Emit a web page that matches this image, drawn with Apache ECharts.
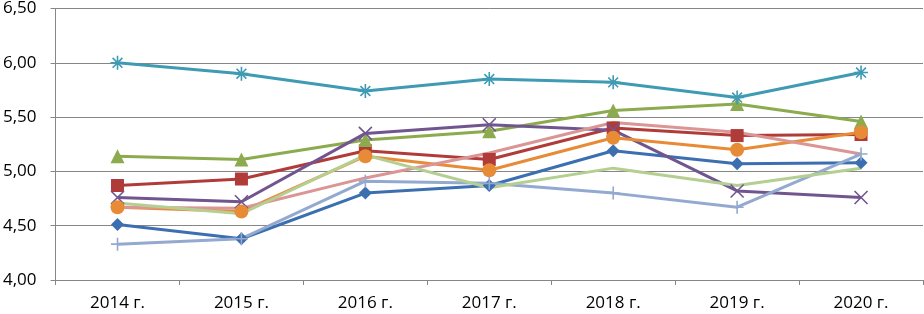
<!DOCTYPE html>
<html>
<head>
<meta charset="utf-8">
<script src="https://cdn.jsdelivr.net/npm/echarts@6/dist/echarts.min.js"></script>
<style>
  html, body { margin: 0; padding: 0; background: #fff; }
  #chart { width: 924px; height: 314px; }
</style>
</head>
<body>
<div id="chart"></div>
<script>
const years = ['2014 г.', '2015 г.', '2016 г.', '2017 г.', '2018 г.', '2019 г.', '2020 г.']

const blueDiamond = [4.51, 4.38, 4.80, 4.87, 5.19, 5.07, 5.08]
const redSquare = [4.87, 4.93, 5.19, 5.11, 5.40, 5.33, 5.34]
const greenTriangle = [5.14, 5.11, 5.29, 5.37, 5.56, 5.62, 5.46]
const purpleCross = [4.76, 4.72, 5.35, 5.43, 5.38, 4.82, 4.76]
const tealStar = [6.00, 5.90, 5.74, 5.85, 5.82, 5.68, 5.91]
const orangeCircle = [4.67, 4.63, 5.14, 5.01, 5.31, 5.20, 5.36]
const lightBluePlus = [4.33, 4.38, 4.91, 4.89, 4.80, 4.67, 5.16]
const pinkLine = [4.67, 4.66, 4.94, 5.17, 5.45, 5.36, 5.16]
const lightGreenLine = [4.71, 4.61, 5.15, 4.85, 5.03, 4.87, 5.03]

const crossPath = 'path://M0,0L10,10M10,0L0,10'
const starPath = 'path://M0,5L10,5M5,0L5,10M1.5,1.5L8.5,8.5M8.5,1.5L1.5,8.5'
const plusPath = 'path://M5,0L5,10M0,5L10,5'

function makeSeries(name, data, color, symbol, size, stroke) {
  return {
    name: name,
    type: 'line',
    data: data,
    symbol: symbol,
    symbolSize: size,
    showSymbol: symbol !== 'none',
    lineStyle: { color: color, width: 3 },
    itemStyle: {
      color: color,
      borderColor: color,
      borderWidth: stroke ? 1.6 : 0
    },
    emphasis: { disabled: true },
    animation: false
  }
}

const chart = echarts.init(document.getElementById('chart'))
chart.setOption({
  backgroundColor: '#fff',
  grid: { left: 55, right: 1, top: 7, bottom: 34 },
  xAxis: {
    type: 'category',
    data: years,
    boundaryGap: true,
    axisLine: { lineStyle: { color: '#868686', width: 1 } },
    axisTick: { show: true, length: 5, lineStyle: { color: '#868686' } },
    axisLabel: {
      color: '#000',
      fontFamily: 'Open Sans',
      fontSize: 17,
      margin: 15
    }
  },
  yAxis: {
    type: 'value',
    min: 4,
    max: 6.5,
    interval: 0.5,
    axisLine: { show: true, lineStyle: { color: '#868686', width: 1 } },
    axisTick: { show: true, length: 5, lineStyle: { color: '#868686' } },
    splitLine: { lineStyle: { color: '#868686', width: 1 } },
    axisLabel: {
      color: '#000',
      fontFamily: 'Open Sans',
      fontSize: 17,
      margin: 19,
      formatter: v => v.toFixed(2).replace('.', ',')
    }
  },
  series: [
    makeSeries('s1', blueDiamond, '#3c6fb0', 'diamond', 13, false),
    makeSeries('s2', redSquare, '#b03c3a', 'rect', 13, false),
    makeSeries('s3', greenTriangle, '#8bab4e', 'triangle', 14, false),
    makeSeries('s4', purpleCross, '#71558f', crossPath, 13, true),
    makeSeries('s5', tealStar, '#3f9ab3', starPath, 14, true),
    makeSeries('s6', orangeCircle, '#e88b36', 'circle', 14, false),
    makeSeries('s7', lightBluePlus, '#93a9d0', plusPath, 13, true),
    makeSeries('s8', pinkLine, '#da9594', 'none', 0, false),
    makeSeries('s9', lightGreenLine, '#b5cf93', 'none', 0, false)
  ]
})
</script>
</body>
</html>
